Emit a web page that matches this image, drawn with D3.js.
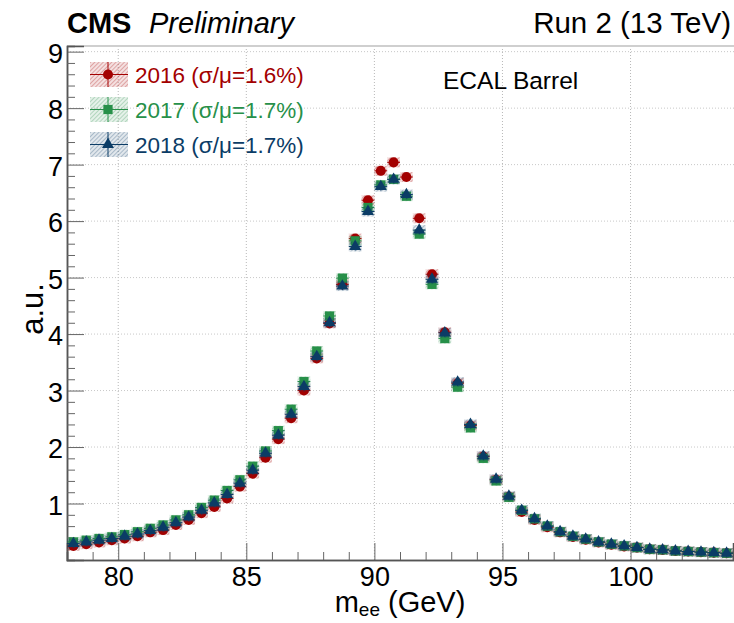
<!DOCTYPE html>
<html>
<head>
<meta charset="utf-8">
<script src="https://cdn.jsdelivr.net/npm/d3@7"></script>
<style>
  body { margin: 0; background: #fff; }
  text { font-family: "Liberation Sans", Arial, sans-serif; }
</style>
</head>
<body>
<div id="chart"></div>
<script>
// bin centres (GeV)
var massBins = [78.25, 78.75, 79.25, 79.75, 80.25, 80.75, 81.25, 81.75, 82.25, 82.75,
    83.25, 83.75, 84.25, 84.75, 85.25, 85.75, 86.25, 86.75, 87.25, 87.75,
    88.25, 88.75, 89.25, 89.75, 90.25, 90.75, 91.25, 91.75, 92.25, 92.75,
    93.25, 93.75, 94.25, 94.75, 95.25, 95.75, 96.25, 96.75, 97.25, 97.75,
    98.25, 98.75, 99.25, 99.75, 100.25, 100.75, 101.25, 101.75, 102.25, 102.75,
    103.25, 103.75];

var values2016 = [0.25, 0.28, 0.31, 0.35, 0.38, 0.42, 0.49, 0.53, 0.62, 0.71,
    0.83, 0.94, 1.09, 1.30, 1.53, 1.81, 2.14, 2.51, 3.00, 3.57,
    4.19, 4.88, 5.69, 6.37, 6.89, 7.04, 6.78, 6.05, 5.06, 4.03,
    3.13, 2.38, 1.83, 1.42, 1.12, 0.85, 0.71, 0.58, 0.49, 0.41,
    0.36, 0.31, 0.27, 0.24, 0.22, 0.19, 0.18, 0.16, 0.15, 0.14,
    0.13, 0.12];

var values2017 = [0.32, 0.35, 0.38, 0.41, 0.45, 0.50, 0.56, 0.62, 0.71, 0.80,
    0.93, 1.06, 1.23, 1.42, 1.66, 1.93, 2.29, 2.67, 3.16, 3.70,
    4.32, 4.99, 5.65, 6.24, 6.64, 6.74, 6.44, 5.77, 4.88, 3.92,
    3.06, 2.34, 1.80, 1.40, 1.11, 0.88, 0.73, 0.60, 0.50, 0.42,
    0.37, 0.32, 0.28, 0.25, 0.22, 0.19, 0.18, 0.16, 0.15, 0.14,
    0.13, 0.12];

var values2018 = [0.29, 0.32, 0.35, 0.38, 0.42, 0.46, 0.52, 0.58, 0.66, 0.76,
    0.88, 1.01, 1.16, 1.36, 1.59, 1.89, 2.21, 2.58, 3.07, 3.60,
    4.20, 4.85, 5.55, 6.17, 6.61, 6.74, 6.47, 5.84, 4.97, 4.02,
    3.15, 2.40, 1.84, 1.43, 1.13, 0.88, 0.73, 0.60, 0.50, 0.42,
    0.37, 0.32, 0.28, 0.25, 0.22, 0.19, 0.18, 0.16, 0.15, 0.14,
    0.13, 0.12];

var seriesLabels = ["2016 (σ/μ=1.6%)", "2017 (σ/μ=1.7%)", "2018 (σ/μ=1.7%)"];
var xTicks = [80, 85, 90, 95, 100];
var yTicks = [1, 2, 3, 4, 5, 6, 7, 8, 9];

var width = 734, height = 623,
    margin = {top: 46, right: 1, bottom: 63, left: 67},
    binWidth = 0.5;

var series = [
    {key: "2016", values: values2016, color: "#a30000", shape: d3.symbolCircle, size: 80},
    {key: "2017", values: values2017, color: "#279049", shape: d3.symbolSquare, size: 85},
    {key: "2018", values: values2018, color: "#0b3c66", shape: d3.symbolTriangle, size: 62}
];

var x = d3.scaleLinear().domain([78, 104]).range([margin.left, width - margin.right]),
    y = d3.scaleLinear().domain([0, 9.1]).range([height - margin.bottom, margin.top]);

var svg = d3.select("#chart").append("svg")
    .attr("width", width)
    .attr("height", height);

// hatch patterns for the uncertainty boxes
var defs = svg.append("defs");
series.forEach(function (s) {
    var p = defs.append("pattern")
        .attr("id", "hatch" + s.key)
        .attr("patternUnits", "userSpaceOnUse")
        .attr("width", 3).attr("height", 3)
        .attr("patternTransform", "rotate(45)");
    p.append("rect").attr("width", 3).attr("height", 3).attr("fill", s.color).attr("opacity", 0.12);
    p.append("line").attr("x1", 0).attr("y1", 0).attr("x2", 0).attr("y2", 3)
        .attr("stroke", s.color).attr("stroke-width", 1.2).attr("opacity", 0.45);
});

// grid
svg.append("g").selectAll("line").data(xTicks).enter().append("line")
    .attr("x1", d => x(d)).attr("x2", d => x(d))
    .attr("y1", y(0)).attr("y2", margin.top)
    .attr("stroke", "#b8b8b8").attr("stroke-dasharray", "1,2");
svg.append("g").selectAll("line").data(yTicks).enter().append("line")
    .attr("x1", margin.left).attr("x2", width)
    .attr("y1", d => y(d)).attr("y2", d => y(d))
    .attr("stroke", "#c8c8c8").attr("stroke-dasharray", "1,2");

// frame top
svg.append("line")
    .attr("x1", margin.left).attr("x2", width)
    .attr("y1", margin.top).attr("y2", margin.top)
    .attr("stroke", "#cfcfcf").attr("stroke-width", 2);

// axes
var xAxis = svg.append("g")
    .attr("transform", "translate(0," + y(0) + ")")
    .call(d3.axisBottom(x).tickValues(xTicks).tickSize(-17).tickPadding(7).tickFormat(d3.format("d")));
svg.append("g")
    .attr("transform", "translate(0," + y(0) + ")")
    .call(d3.axisBottom(x).tickValues(d3.range(79, 104, 1).filter(v => v % 5 != 0)).tickSize(-8).tickFormat(""));

var yAxis = svg.append("g")
    .attr("transform", "translate(" + margin.left + ",0)")
    .call(d3.axisLeft(y).tickValues(yTicks).tickSize(-17).tickPadding(5).tickFormat(d3.format("d")));
svg.append("g")
    .attr("transform", "translate(" + margin.left + ",0)")
    .call(d3.axisLeft(y).tickValues(d3.range(0.2, 9.05, 0.2).filter(v => Math.abs(v - Math.round(v)) > 0.01)).tickSize(-8).tickFormat(""));

svg.selectAll(".domain").attr("stroke", "#555").attr("stroke-width", 1.5);
svg.selectAll(".tick line").attr("stroke", "#666");
xAxis.selectAll("text").attr("font-size", 27).attr("fill", "#000");
yAxis.selectAll("text").attr("font-size", 27).attr("fill", "#000").attr("x", -4).attr("dy", "0.4em");
svg.selectAll(".tick text").attr("font-family", "Liberation Sans, Arial, sans-serif");

// data points
series.forEach(function (s) {
    var g = svg.append("g").attr("class", "series-" + s.key);
    var pts = g.selectAll("g").data(massBins.map((m, i) => ({m: m, v: s.values[i]})))
        .enter().append("g")
        .attr("transform", d => "translate(" + x(d.m) + "," + y(d.v) + ")");
    var half = (x(binWidth) - x(0)) / 2;
    pts.append("rect")
        .attr("x", -half).attr("y", -5)
        .attr("width", 2 * half).attr("height", 10)
        .attr("fill", "url(#hatch" + s.key + ")");
    pts.append("line")
        .attr("x1", -half).attr("x2", half)
        .attr("stroke", s.color).attr("stroke-width", 1);
    pts.append("line")
        .attr("y1", -4).attr("y2", 4)
        .attr("stroke", s.color).attr("stroke-width", 1);
    pts.append("path")
        .attr("d", d3.symbol().type(s.shape).size(s.size))
        .attr("fill", s.color);
});

// legend
var legend = svg.append("g").attr("transform", "translate(90,62)");
series.forEach(function (s, i) {
    var row = legend.append("g").attr("transform", "translate(0," + (i * 35) + ")");
    row.append("rect").attr("width", 38).attr("height", 25).attr("fill", "url(#hatch" + s.key + ")");
    row.append("line").attr("x1", 0).attr("x2", 38).attr("y1", 12.5).attr("y2", 12.5)
        .attr("stroke", s.color).attr("stroke-width", 1);
    row.append("line").attr("x1", 18).attr("x2", 18).attr("y1", 0).attr("y2", 25)
        .attr("stroke", s.color).attr("stroke-width", 1);
    row.append("path")
        .attr("transform", "translate(18,12.5)")
        .attr("d", d3.symbol().type(s.shape).size(s.size))
        .attr("fill", s.color);
    row.append("text")
        .attr("x", 45).attr("y", 21)
        .attr("font-size", 22.5)
        .attr("fill", s.color)
        .text(seriesLabels[i]);
});

// labels
svg.append("text").attr("x", 67).attr("y", 33)
    .attr("font-size", 29).attr("font-weight", "bold").text("CMS");
svg.append("text").attr("x", 149).attr("y", 33)
    .attr("font-size", 29).attr("font-style", "italic").text("Preliminary");
svg.append("text").attr("x", 731).attr("y", 33)
    .attr("font-size", 29.5).attr("text-anchor", "end").text("Run 2 (13 TeV)");
svg.append("text").attr("x", 443).attr("y", 89)
    .attr("font-size", 24.5).text("ECAL Barrel");

svg.append("text")
    .attr("transform", "translate(43,309) rotate(-90)")
    .attr("text-anchor", "middle")
    .attr("font-size", 31)
    .text("a.u.");

var xt = svg.append("text")
    .attr("x", 400).attr("y", 612)
    .attr("text-anchor", "middle")
    .attr("font-size", 29);
xt.append("tspan").text("m");
xt.append("tspan").attr("font-size", 19).attr("dy", 4).text("ee");
xt.append("tspan").attr("dy", -4).text(" (GeV)");
</script>
</body>
</html>
